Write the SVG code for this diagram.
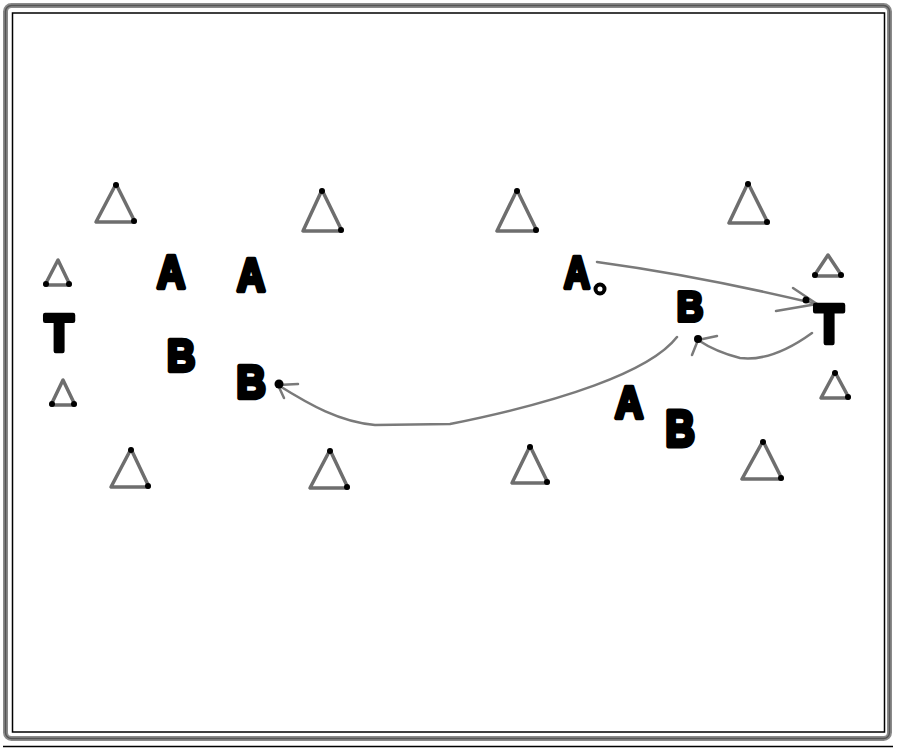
<svg xmlns="http://www.w3.org/2000/svg" width="900" height="748" viewBox="0 0 900 748">
<style>
.cone{fill:none;stroke:#6e6e6e;stroke-width:3.5;stroke-linejoin:round}
.dot{fill:#000}
.lt{font-family:"Liberation Sans",Arial,sans-serif;font-weight:bold;font-size:46px;fill:#000;stroke:#000;stroke-width:4.5;stroke-linejoin:round;text-anchor:middle}
.tt{font-size:52px}
.con{fill:none;stroke:#7a7a7a;stroke-width:2.5;stroke-linecap:round}
</style>
<rect width="900" height="748" fill="#fff"/>
<g id="frame">
<rect x="5.5" y="5.5" width="884" height="733" rx="6" fill="none" stroke="#8a8a8a" stroke-width="5"/>
<rect x="5.5" y="5.5" width="884" height="733" rx="6" fill="none" stroke="#555" stroke-width="1.5"/>
<rect x="12.5" y="13" width="872" height="719" fill="none" stroke="#000" stroke-width="1.5"/>
<line x1="3" y1="746.5" x2="893" y2="746.5" stroke="#000" stroke-width="1.5"/>
</g>
<g id="cones">
<g id="cone1"><polygon class="cone" points="116,184 96,222 135,222"/><circle class="dot" cx="116" cy="185" r="3"/><circle class="dot" cx="134" cy="221" r="3"/></g>
<g id="cone2"><polygon class="cone" points="322,190 303,231 342,231"/><circle class="dot" cx="322" cy="191" r="3"/><circle class="dot" cx="341" cy="230" r="3"/></g>
<g id="cone3"><polygon class="cone" points="517,190 497,231 537,231"/><circle class="dot" cx="517" cy="191" r="3"/><circle class="dot" cx="536" cy="230" r="3"/></g>
<g id="cone4"><polygon class="cone" points="748,183 729,223 768,223"/><circle class="dot" cx="748" cy="184" r="3"/><circle class="dot" cx="767" cy="222" r="3"/></g>
<g id="cone5"><polygon class="cone" points="131,449 111,487 149,487"/><circle class="dot" cx="131" cy="450" r="3"/><circle class="dot" cx="148" cy="486" r="3"/></g>
<g id="cone6"><polygon class="cone" points="330,450 310,488 348,488"/><circle class="dot" cx="330" cy="451" r="3"/><circle class="dot" cx="347" cy="487" r="3"/></g>
<g id="cone7"><polygon class="cone" points="530,446 512,483 548,483"/><circle class="dot" cx="530" cy="447" r="3"/><circle class="dot" cx="547" cy="482" r="3"/></g>
<g id="cone8"><polygon class="cone" points="763,441 742,479 782,479"/><circle class="dot" cx="763" cy="442" r="3"/><circle class="dot" cx="781" cy="478" r="3"/></g>
<g id="cone9"><polygon class="cone" points="58,260 45,285 70,285"/><circle class="dot" cx="46" cy="284" r="3"/><circle class="dot" cx="69" cy="284" r="3"/></g>
<g id="cone10"><polygon class="cone" points="63,380 51,405 75,405"/><circle class="dot" cx="52" cy="404" r="3"/><circle class="dot" cx="74" cy="404" r="3"/></g>
<g id="cone11"><polygon class="cone" points="828,255 814,276 842,276"/><circle class="dot" cx="815" cy="275" r="3"/><circle class="dot" cx="841" cy="275" r="3"/></g>
<g id="cone12"><polygon class="cone" points="835,372 821,398 849,398"/><circle class="dot" cx="835" cy="373" r="3"/><circle class="dot" cx="848" cy="397" r="3"/></g>
</g>
<g id="connectors">
<path class="con" d="M597,262 Q700,276 817,304"/>
<path class="con" d="M817,304 L793,288 M817,304 L776,311"/>
<circle class="dot" cx="806" cy="300" r="3.5"/>
<path class="con" d="M812,333 Q772,362 740,358 Q716,352 698,340"/>
<path class="con" d="M698,340 L717,336 M698,340 L692,355"/>
<circle class="dot" cx="698" cy="339" r="4"/>
<path class="con" d="M677,337 C650,372 560,402 450,424 L375,425 C340,422 310,405 278,385"/>
<path class="con" d="M278,385 L298,384 M278,385 L284,398"/>
<circle class="dot" cx="279" cy="384" r="4.5"/>
</g>
<g id="nodeA1"><text class="lt" transform="translate(171,288) scale(0.85,1)">A</text></g>
<g id="nodeA2"><text class="lt" transform="translate(251,291) scale(0.85,1)">A</text></g>
<g id="nodeA3"><text class="lt" transform="translate(577,288) scale(0.78,0.98)">A</text><circle cx="600" cy="289" r="4.5" fill="#fff" stroke="#000" stroke-width="4"/></g>
<g id="nodeA4"><text class="lt" transform="translate(629,418) scale(0.85,0.98)">A</text></g>
<g id="nodeB1"><text class="lt" transform="translate(181,371) scale(0.85,0.98)">B</text></g>
<g id="nodeB2"><text class="lt" transform="translate(251,398) scale(0.88,1.02)">B</text></g>
<g id="nodeB3"><text class="lt" transform="translate(690,321) scale(0.8,0.92)">B</text></g>
<g id="nodeB4"><text class="lt" transform="translate(680,446) scale(0.88,1.08)">B</text></g>
<g id="nodeT1"><text class="lt tt" transform="translate(59,351) scale(0.92,1)">T</text></g>
<g id="nodeT2"><text class="lt tt" transform="translate(829,343) scale(0.92,1.05)">T</text></g>
</svg>
